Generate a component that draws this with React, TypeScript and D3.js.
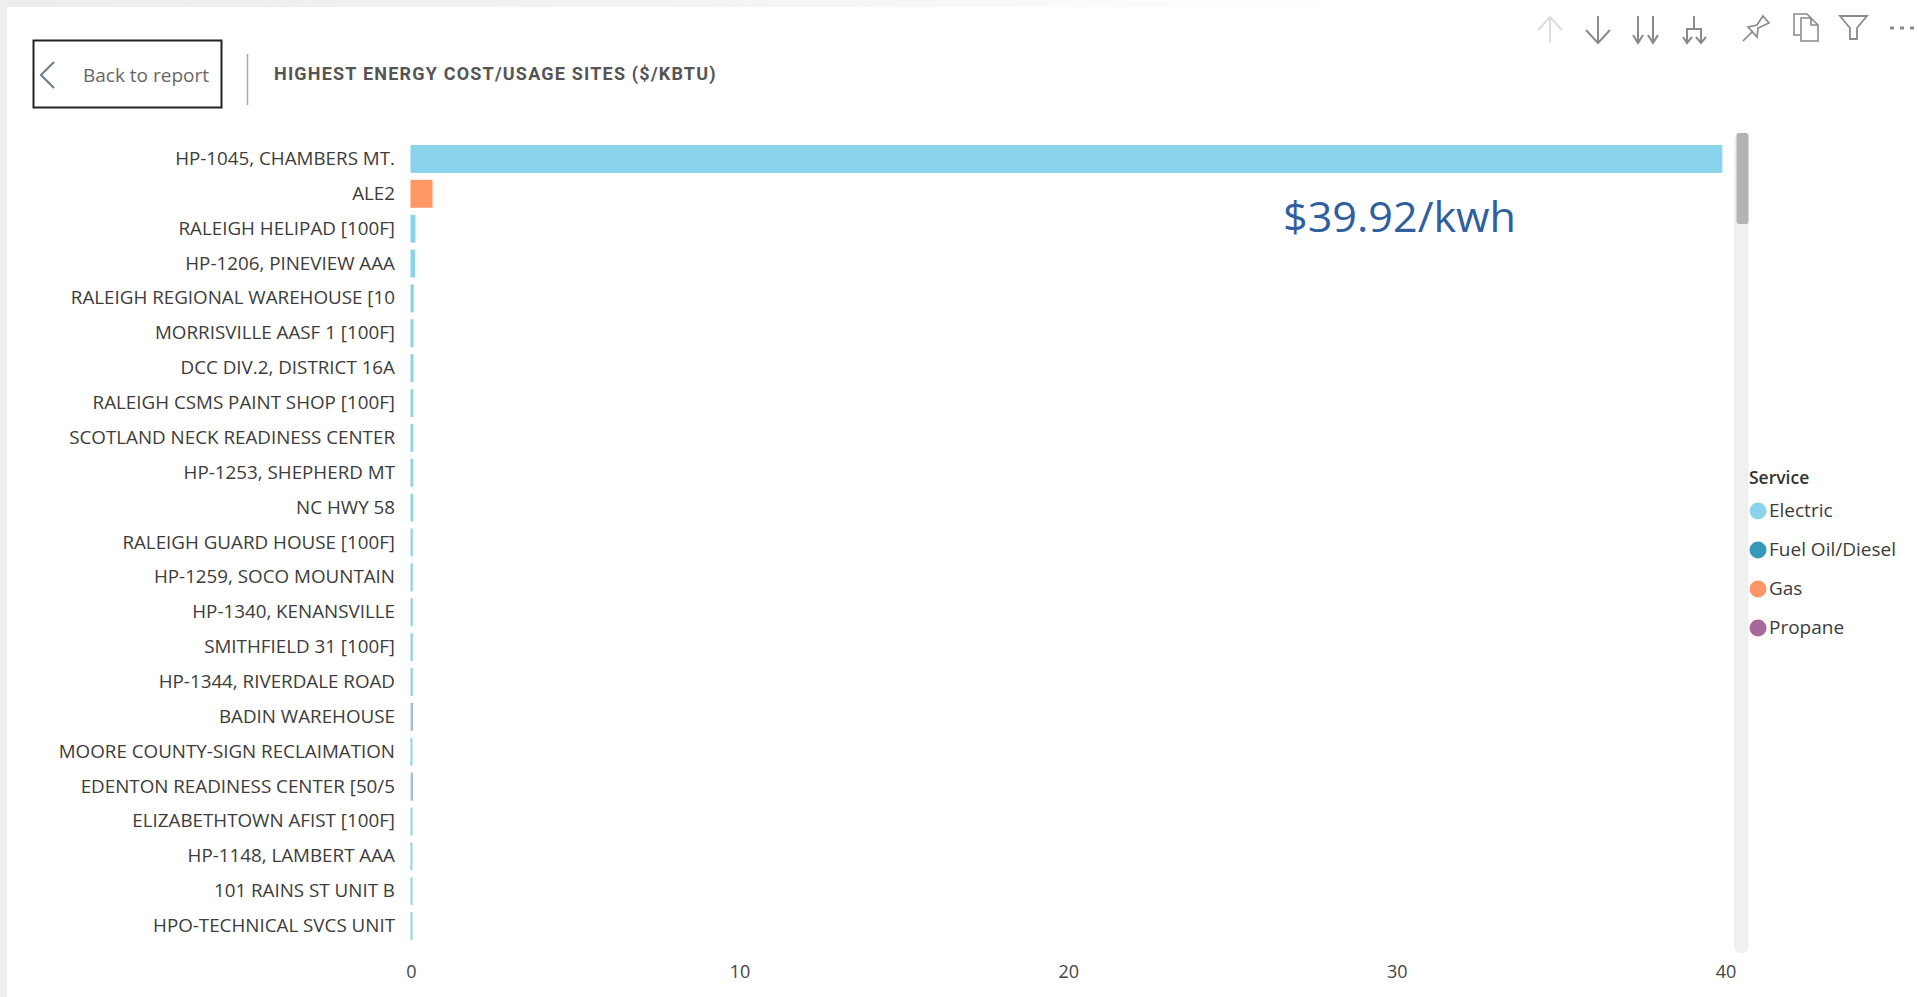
import React from "react";
import * as d3 from "d3";

const sites = [
  "HP-1045, CHAMBERS MT.",
  "ALE2",
  "RALEIGH HELIPAD [100F]",
  "HP-1206, PINEVIEW AAA",
  "RALEIGH REGIONAL WAREHOUSE [10",
  "MORRISVILLE AASF 1 [100F]",
  "DCC DIV.2, DISTRICT 16A",
  "RALEIGH CSMS PAINT SHOP [100F]",
  "SCOTLAND NECK READINESS CENTER",
  "HP-1253, SHEPHERD MT",
  "NC HWY 58",
  "RALEIGH GUARD HOUSE [100F]",
  "HP-1259, SOCO MOUNTAIN",
  "HP-1340, KENANSVILLE",
  "SMITHFIELD 31 [100F]",
  "HP-1344, RIVERDALE ROAD",
  "BADIN WAREHOUSE",
  "MOORE COUNTY-SIGN RECLAIMATION",
  "EDENTON READINESS CENTER [50/5",
  "ELIZABETHTOWN AFIST [100F]",
  "HP-1148, LAMBERT AAA",
  "101 RAINS ST UNIT B",
  "HPO-TECHNICAL SVCS UNIT",
];
const costs = [
  39.92, 0.67, 0.15, 0.14, 0.1, 0.09, 0.09, 0.08, 0.08, 0.08, 0.08, 0.07, 0.07,
  0.07, 0.07, 0.07, 0.06, 0.06, 0.06, 0.06, 0.06, 0.06, 0.06,
];
const services = [
  "Electric", "Gas", "Electric", "Electric", "Electric", "Electric", "Electric",
  "Electric", "Electric", "Electric", "Electric", "Electric", "Electric",
  "Electric", "Electric", "Electric", "Electric", "Electric", "Electric",
  "Electric", "Electric", "Electric", "Electric",
];
// Small propane slivers stacked on the end of two electric bars
const propaneCosts = [
  0, 0, 0, 0, 0, 0, 0, 0, 0, 0, 0, 0, 0, 0, 0, 0, 0.015, 0, 0.015, 0, 0, 0, 0,
];
const legendNames = ["Electric", "Fuel Oil/Diesel", "Gas", "Propane"];
const legendColors = ["#8AD4EB", "#3599B8", "#FE9666", "#A66999"];
const xTicks = [0, 10, 20, 30, 40];

const UI_FONT = "'Open Sans', 'Noto Sans', sans-serif";

export default function App() {
  const x = d3.scaleLinear().domain([0, 40]).range([410.5, 1725]);
  const y = d3.scaleBand<string>().domain(sites).range([141.5, 943.5]).paddingInner(0.2).paddingOuter(0.1);
  const color = d3.scaleOrdinal<string, string>().domain(legendNames).range(legendColors);
  const legendY = d3.scalePoint<string>().domain(legendNames).range([511, 628]);

  const icon = { fill: "none", stroke: "#8a8a8a", strokeWidth: 2 };

  return (
    <svg
      width={1918}
      height={997}
      style={{ position: "absolute", left: 0, top: 0, display: "block", background: "#fff" }}
    >
      <defs>
        <linearGradient id="topBand" x1="0" x2="1" y1="0" y2="0">
          <stop offset="0" stopColor="#ececec" />
          <stop offset="0.45" stopColor="#f6f6f6" />
          <stop offset="0.7" stopColor="#ffffff" />
        </linearGradient>
      </defs>
      <rect x={0} y={0} width={1918} height={7} fill="url(#topBand)" />
      <rect x={0} y={0} width={7} height={997} fill="#efefef" />

      {/* Header: back button, divider, title */}
      <rect x={33.5} y={40.5} width={188} height={67} fill="#fff" stroke="#222" strokeWidth={2} />
      <path d="M54,62 L41,75 L54,88" fill="none" stroke="#6f7f8c" strokeWidth={2.2} />
      <text x={83} y={82} fontFamily={UI_FONT} fontSize={19} fill="#666">Back to report</text>
      <line x1={247.5} x2={247.5} y1={54} y2={105} stroke="#aaa" strokeWidth={1.5} />
      <text x={274} y={80} fontFamily="Roboto, sans-serif" fontWeight={700} fontSize={18} letterSpacing={1.2} fill="#555">
        HIGHEST ENERGY COST/USAGE SITES ($/KBTU)
      </text>

      {/* Visual header icons */}
      <g {...icon} stroke="#ddd">
        <path d="M1550,43 V17 M1538,30 L1550,17 L1562,30" />
      </g>
      <g {...icon}>
        <path d="M1598,16 V43 M1586,30 L1598,43 L1610,30" />
        <path d="M1638,16 V43 M1633,35 L1638,43 L1643,35 M1653,16 V43 M1648,35 L1653,43 L1658,35" />
        <path d="M1694,16 V29 M1687,43 V29 H1701 V43 M1683,37 L1687,43 L1692,37 M1696,37 L1701,43 L1706,37" />
        <path d="M1743,41 L1753,31 M1763,16 L1769,23 L1758,28 L1757,37 L1748,27 L1757,25 Z" strokeWidth={1.7} />
        <path d="M1800,35 H1794 V14 H1807 L1811,18 M1801,18 H1811 L1818,25 V41 H1801 Z M1811,18 V25 H1818" strokeWidth={1.6} />
        <path d="M1840,16 H1867 L1857,28 V39 H1850 V28 Z" strokeWidth={1.8} />
      </g>
      <g fill="#8a8a8a">
        {[1892, 1902, 1912].map((cx) => (
          <rect key={cx} x={cx - 2} y={26.5} width={4} height={3} />
        ))}
      </g>

      {/* Category labels and bars */}
      {sites.map((site, i) => (
        <g key={site}>
          <text
            x={395}
            y={(y(site) as number) + y.bandwidth() / 2 + 6}
            textAnchor="end"
            fontFamily={UI_FONT}
            fontSize={18.8}
            fill="#3c3c3c"
          >
            {site}
          </text>
          <rect
            x={x(0)}
            y={y(site)}
            width={x(costs[i]) - x(0)}
            height={y.bandwidth()}
            fill={color(services[i])}
          />
          {propaneCosts[i] > 0 && (
            <rect
              x={x(costs[i])}
              y={y(site)}
              width={x(costs[i] + propaneCosts[i]) - x(costs[i])}
              height={y.bandwidth()}
              fill={color("Propane")}
            />
          )}
        </g>
      ))}

      {/* Value axis */}
      {xTicks.map((t) => (
        <text key={t} x={x(t) + 1} y={978} textAnchor="middle" fontFamily={UI_FONT} fontSize={18} fill="#444">
          {t}
        </text>
      ))}

      {/* Scrollbar */}
      <rect x={1734} y={133} width={14.5} height={820} rx={7} fill="#f0f0f0" />
      <rect x={1736.5} y={133} width={12} height={91} rx={3} fill="#b3b3b3" />

      <text x={1283} y={232} fontFamily={UI_FONT} fontSize={42} fill="#2f5f9f" textLength={233} lengthAdjust="spacingAndGlyphs">
        $39.92/kwh
      </text>

      {/* Legend */}
      <text x={1749} y={484} fontFamily={UI_FONT} fontWeight={600} fontSize={17.5} fill="#333">Service</text>
      {legendNames.map((name) => (
        <g key={name}>
          <circle cx={1758} cy={legendY(name)} r={8.5} fill={color(name)} />
          <text x={1769} y={(legendY(name) as number) + 6} fontFamily={UI_FONT} fontSize={19} fill="#3c3c3c">
            {name}
          </text>
        </g>
      ))}
    </svg>
  );
}
